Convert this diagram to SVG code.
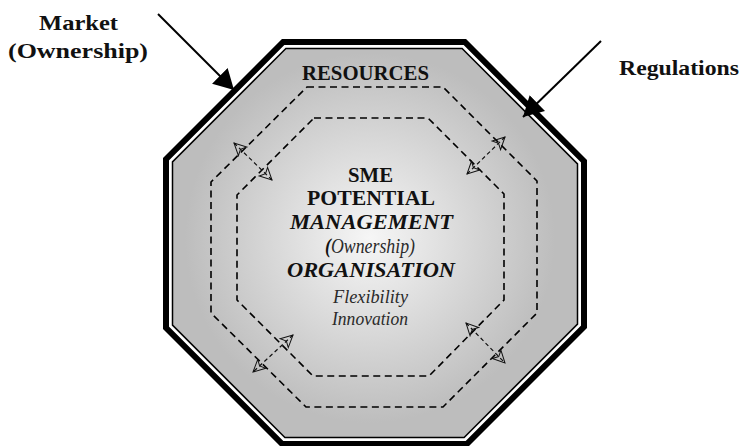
<svg xmlns="http://www.w3.org/2000/svg" width="742" height="446" viewBox="0 0 742 446" font-family="Liberation Serif, DejaVu Serif, Noto Serif, Times New Roman, Times, serif">
<style>
text{text-anchor:middle}
.lbl{font-weight:bold;fill:#111}
.it{font-style:italic;fill:#2a2a2a}
.bi{font-style:italic;font-weight:bold;fill:#111}
.dash{fill:none;stroke:#000;stroke-width:1.6;stroke-dasharray:7,4.5}
.link{fill:none;stroke:#111;stroke-width:1.2;stroke-dasharray:4,3;marker-start:url(#open);marker-end:url(#open)}
.force{fill:none;stroke:#000;stroke-width:2;marker-end:url(#solid)}
</style>
<defs>
<radialGradient id="core" gradientUnits="userSpaceOnUse" cx="370" cy="238" r="185">
<stop offset="0" stop-color="#f6f6f6"/>
<stop offset="1" stop-color="#bdbdbd"/>
</radialGradient>
<marker id="open" markerUnits="userSpaceOnUse" viewBox="-1 -8 15 16" refX="12" refY="0" markerWidth="15" markerHeight="16" orient="auto-start-reverse">
<path d="M0,-6 L12,0 L0,6 L3,0 Z" fill="none" stroke="#111" stroke-width="1" stroke-dasharray="none"/>
</marker>
<marker id="solid" markerUnits="userSpaceOnUse" viewBox="0 -12 22 24" refX="20" refY="0" markerWidth="22" markerHeight="24" orient="auto">
<path d="M0,-11 L20,0 L0,11 Z" fill="#000"/>
</marker>
</defs>
<g id="frame">
<polygon points="283.2,42 464.8,42 584,161.2 584,326.8 466.8,444 282.2,444 166,327.8 166,159.2" fill="#fff" stroke="#000" stroke-width="6"/>
<polygon points="285.9,48.5 462.1,48.5 577.5,163.9 577.5,324.1 464.1,437.5 284.9,437.5 172.5,325.1 172.5,161.9" fill="url(#core)" stroke="#000" stroke-width="1.5"/>
</g>
<g id="resources">
<polygon class="dash" points="307,87 443,87 537,181 537,313 443,407 306,407 211,313 211,182"/>
<text class="lbl" x="365.5" y="80" font-size="20" textLength="127" lengthAdjust="spacingAndGlyphs">RESOURCES</text>
</g>
<g id="sme-potential">
<polygon class="dash" points="314,118 428,118 504,194 504,300 429,376 313,376 237,300 237,195"/>
<text class="lbl" x="370.5" y="182" font-size="20" textLength="45" lengthAdjust="spacingAndGlyphs">SME</text>
<text class="lbl" x="371" y="205" font-size="21" textLength="128" lengthAdjust="spacingAndGlyphs">POTENTIAL</text>
<text class="bi" x="371.5" y="229" font-size="21" textLength="163" lengthAdjust="spacingAndGlyphs">MANAGEMENT</text>
<text class="it" x="370" y="253" font-size="20" textLength="90" lengthAdjust="spacingAndGlyphs"><tspan font-weight="bold" fill="#111">(</tspan>Ownership)</text>
<text class="bi" x="371" y="277" font-size="21" textLength="168" lengthAdjust="spacingAndGlyphs">ORGANISATION</text>
<text class="it" x="370.5" y="303" font-size="19" textLength="75" lengthAdjust="spacingAndGlyphs">Flexibility</text>
<text class="it" x="370" y="325" font-size="19" textLength="76" lengthAdjust="spacingAndGlyphs">Innovation</text>
</g>
<g id="market">
<text class="lbl" x="78.5" y="30" font-size="22" textLength="79" lengthAdjust="spacingAndGlyphs">Market</text>
<text class="lbl" x="78" y="58" font-size="22" textLength="140" lengthAdjust="spacingAndGlyphs">(Ownership)</text>
</g>
<g id="regulations">
<text class="lbl" x="679" y="75" font-size="22" textLength="120" lengthAdjust="spacingAndGlyphs">Regulations</text>
</g>
<g id="connectors">
<line class="force" x1="158" y1="14" x2="234" y2="90"/>
<line class="force" x1="601" y1="41" x2="523" y2="117"/>
<line class="link" x1="234" y1="143" x2="272" y2="180"/>
<line class="link" x1="505" y1="137" x2="467" y2="174"/>
<line class="link" x1="293" y1="335" x2="253" y2="372"/>
<line class="link" x1="466" y1="323" x2="505" y2="363"/>
</g>
</svg>
